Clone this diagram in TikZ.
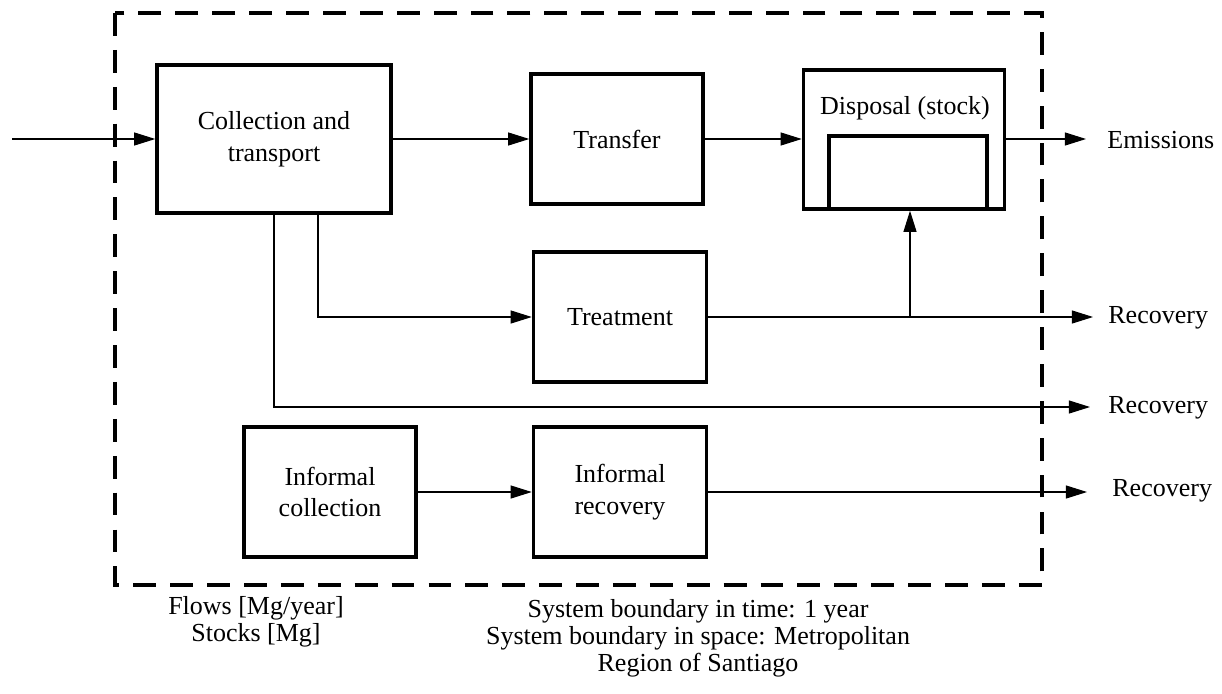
\documentclass[tikz,border=0pt]{standalone}
\usepackage{fontspec}
\setmainfont{Liberation Serif}
\usepackage{tikz}
\usetikzlibrary{arrows.meta,calc,positioning}
\tikzset{
  >={Triangle[length=12pt, width=7.4pt]},
  mbound/.style={draw=black, line width=2pt, dash pattern=on 13pt off 8pt},
  mbox/.style={draw=black, line width=2pt, align=center, inner sep=2pt,
               font=\fontsize{14.8}{18}\selectfont},
  mflow/.style={->, black, line width=0.6pt},
  mlbl/.style={inner sep=0pt, font=\fontsize{14.8}{18}\selectfont},
  mnote/.style={inner sep=0pt, align=center, font=\fontsize{14.8}{15.3}\selectfont},
}

\begin{document}
\begin{tikzpicture}[x=0.02cm, y=-0.02cm]

  \useasboundingbox (0,0) rectangle (1222,693);

  % system boundary
  \draw[mbound] (115,13) rectangle (1042,585);

  % processes
  \node[mbox, minimum width=4.68cm, minimum height=2.96cm] (coll) at (274,139)
    {Collection and\\transport};
  \node[mbox, minimum width=3.44cm, minimum height=2.6cm] (transfer) at (617,139)
    {Transfer};
  \node[mbox, minimum width=4.02cm, minimum height=2.78cm] (disp) at (904,139.5) {};
  \node[mbox, minimum width=3.16cm, minimum height=1.46cm] (stock) at (908,172.5) {};
  \node[mlbl] (displbl) at (905,108) {Disposal (stock)};
  \node[mbox, minimum width=3.46cm, minimum height=2.6cm] (treat) at (620,317)
    {Treatment};
  \node[mbox, minimum width=3.44cm, minimum height=2.6cm] (infcoll) at (330,492)
    {Informal\\collection};
  \node[mbox, minimum width=3.46cm, minimum height=2.6cm] (infrec) at (620,492)
    {Informal\\recovery};

  % free ends
  \coordinate (src)   at (12,139);
  \coordinate (emis)  at (1086,139);
  \coordinate (rec1)  at (1093,317);
  \coordinate (rec2)  at (1090,407);
  \coordinate (rec3)  at (1087,492);
  \coordinate (split) at (910,317);

  % flows
  \draw[mflow] (src) -- (coll);
  \draw[mflow] (coll) -- (transfer);
  \draw[mflow] (transfer.east) -- (transfer.east -| disp.west);
  \draw[mflow] (disp.east |- emis) -- (emis);
  \draw[mflow] ([xshift=0.88cm]coll.south) |- (treat.west);
  \draw[mflow] (coll.south) |- (rec2);
  \draw[mflow] (treat.east) -- (rec1);
  \draw[mflow] (split) -- (split |- disp.south);
  \draw[mflow] (infcoll) -- (infrec);
  \draw[mflow] (infrec) -- (rec3);

  % outputs
  \node[mlbl, anchor=west] (emislbl) at (1107,140) {Emissions};
  \node[mlbl, anchor=west] (rec1lbl) at (1108,318) {Recovery};
  \node[mlbl, anchor=west] (rec2lbl) at (1108,408) {Recovery};
  \node[mlbl, anchor=west] (rec3lbl) at (1112,491) {Recovery};

  % notes
  \node[mnote] (units) at (256,622) {Flows [Mg/year]\\Stocks [Mg]};
  \node[mnote] (scope) at (698,638)
    {System boundary in time: 1 year\\System boundary in space: Metropolitan\\Region of Santiago};

\end{tikzpicture}
\end{document}
